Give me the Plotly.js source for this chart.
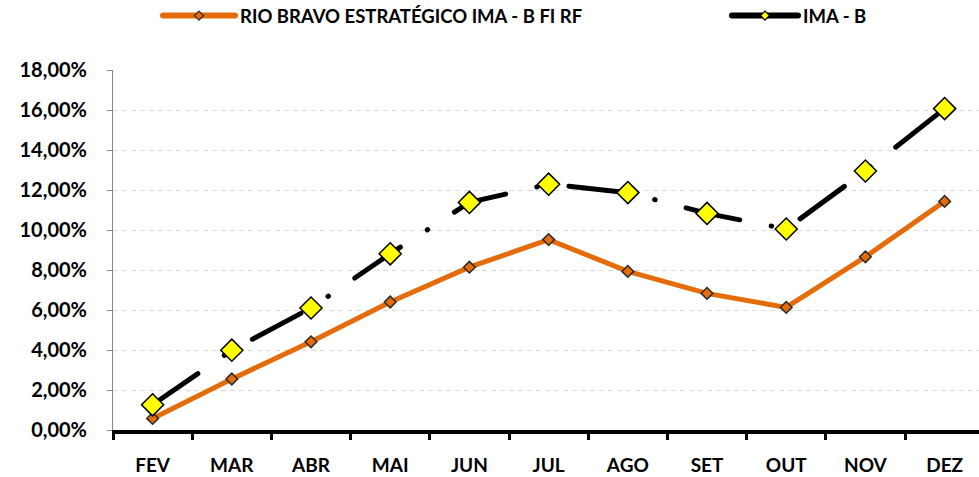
<!DOCTYPE html>
<html>
<head>
<meta charset="utf-8">
<script src="https://cdn.plot.ly/plotly-3.0.1.min.js"></script>
<style>
html,body{margin:0;padding:0;background:#fff;}
#chart{width:979px;height:477px;}
.js-line{stroke-linecap:round;}
</style>
</head>
<body>
<div id="chart"></div>
<script>
// Data (values in %)
const months = ["FEV","MAR","ABR","MAI","JUN","JUL","AGO","SET","OUT","NOV","DEZ"];
const rioBravo = [0.58, 2.55, 4.41, 6.40, 8.14, 9.52, 7.93, 6.83, 6.13, 8.66, 11.43];
const imaB = [1.26, 3.99, 6.10, 8.81, 11.38, 12.29, 11.87, 10.83, 10.05, 12.95, 16.07];
const seriesNames = ["RIO BRAVO ESTRATÉGICO IMA - B FI RF", "IMA - B"];
const yTicks = [0,2,4,6,8,10,12,14,16,18];
const yTickText = yTicks.map(v => v.toFixed(2).replace(".", ",") + "%");

const FONT = "Lato, 'Open Sans', sans-serif";
const ORANGE = "#E46C0A";

const traces = [
  {
    x: months, y: rioBravo, name: seriesNames[0], type: "scatter", mode: "lines+markers",
    line: {color: ORANGE, width: 5},
    marker: {symbol: "diamond", size: 9, color: ORANGE, line: {color: "#2b2b2b", width: 1.5}},
    showlegend: false
  },
  {
    x: months, y: imaB, name: seriesNames[1], type: "scatter", mode: "lines+markers",
    line: {color: "#000", width: 5, dash: "55px,32px,0.5px,32px"},
    marker: {symbol: "diamond", size: 17, color: "#FFFF00", line: {color: "#000", width: 1.5}},
    showlegend: false
  },
  {
    x: [null], y: [null], name: seriesNames[0], type: "scatter", mode: "lines+markers",
    line: {color: ORANGE, width: 6},
    marker: {symbol: "diamond", size: 7, color: ORANGE, line: {color: "#2b2b2b", width: 1.2}},
    showlegend: true, legend: "legend"
  },
  {
    x: [null], y: [null], name: seriesNames[1], type: "scatter", mode: "lines+markers",
    line: {color: "#000", width: 6},
    marker: {symbol: "diamond", size: 7, color: "#FFFF00", line: {color: "#000", width: 1.2}},
    showlegend: true, legend: "legend2"
  }
];

const legendBase = {
  orientation: "h", xanchor: "left", yanchor: "middle",
  xref: "container", yref: "container",
  font: {family: FONT, size: 18.5, color: "#000", weight: "bold"},
  bgcolor: "rgba(0,0,0,0)", borderwidth: 0
};

const layout = {
  width: 979, height: 477,
  margin: {l: 113, r: 0, t: 70, b: 47, pad: 0, autoexpand: false},
  paper_bgcolor: "#fff", plot_bgcolor: "#fff",
  font: {family: FONT, color: "#000", size: 16, weight: "bold"},
  showlegend: true,
  legend: Object.assign({}, legendBase, {x: 158/979, y: 1 - 16/477, itemwidth: 72}),
  legend2: Object.assign({}, legendBase, {x: 727/979, y: 1 - 16/477, itemwidth: 66}),
  xaxis: {
    type: "category", categoryorder: "array", categoryarray: months,
    range: [-0.5, 10.434], fixedrange: true,
    showline: true, linecolor: "#000", linewidth: 4,
    ticks: "outside", tickson: "boundaries", ticklen: 6, tickwidth: 3, tickcolor: "#000",
    showgrid: false, zeroline: false,
    tickfont: {family: FONT, size: 19, color: "#000", weight: "bold"},
    ticklabelstandoff: 15
  },
  yaxis: {
    range: [0, 18], fixedrange: true,
    tickvals: yTicks, ticktext: yTickText,
    showline: true, linecolor: "#868686", linewidth: 1,
    ticks: "outside", ticklen: 5, tickwidth: 1, tickcolor: "#868686",
    showgrid: true, gridcolor: "#d9d9d9", gridwidth: 1, griddash: "5px,4px",
    zeroline: false,
    tickfont: {family: FONT, size: 20, color: "#000", weight: "bold"},
    ticklabelstandoff: 16
  }
};

Plotly.newPlot("chart", traces, layout, {displayModeBar: false, staticPlot: true});
</script>
</body>
</html>
